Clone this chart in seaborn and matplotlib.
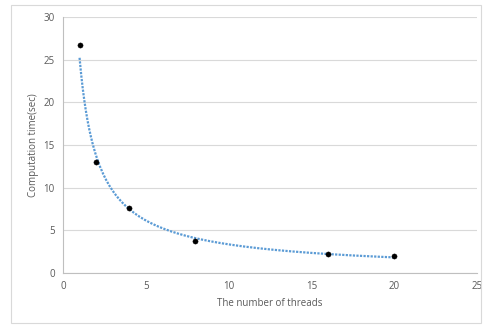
import numpy as np
import pandas as pd
import matplotlib
matplotlib.use("Agg")
import matplotlib.pyplot as plt
import seaborn as sns
from matplotlib.patches import Rectangle

threads = [1, 2, 4, 8, 16, 20]
times = [26.7, 12.95, 7.65, 3.8, 2.2, 1.95]
x_ticks = [0, 5, 10, 15, 20, 25]
y_ticks = [0, 5, 10, 15, 20, 25, 30]

# power trendline fitted to the data (Excel-style)
b, a = np.polyfit(np.log(threads), np.log(times), 1)
xt = np.linspace(min(threads), max(threads), 200)
trend = pd.DataFrame({"x": xt, "y": np.exp(a) * xt ** b})
df = pd.DataFrame({"threads": threads, "time": times})

sns.set_style("white")
plt.rcParams['font.family'] = ['Open Sans', 'DejaVu Sans']

fig = plt.figure(figsize=(4.84, 3.25), dpi=100)
fig.patches.append(Rectangle((11/484, 2/325), 470/484, 318/325, transform=fig.transFigure,
                             fill=False, edgecolor="#d9d9d9", linewidth=0.8))
ax = fig.add_axes([63/484, 1-273/325, 414/484, 256/325])

sns.lineplot(data=trend, x="x", y="y", ax=ax, color="#5B9BD5", linestyle=(0, (1, 0.6)),
             linewidth=1.6, zorder=2)
sns.scatterplot(data=df, x="threads", y="time", ax=ax, color="black", s=14,
                edgecolor="black", zorder=3)

ax.set_xlim(0, 25)
ax.set_ylim(0, 30)
ax.set_xticks(x_ticks)
ax.set_yticks(y_ticks)
ax.yaxis.grid(True, color="#d9d9d9", linewidth=0.8)
ax.xaxis.grid(False)
for s in ["top", "right"]:
    ax.spines[s].set_visible(False)
for s in ["left", "bottom"]:
    ax.spines[s].set_color("#bfbfbf")
    ax.spines[s].set_linewidth(0.8)
ax.tick_params(axis="both", length=0, labelsize=7, labelcolor="#595959", pad=6)
ax.set_xlabel("The number of threads", fontsize=7, color="#595959", labelpad=4)
ax.set_ylabel("Computation time(sec)", fontsize=7, color="#595959", labelpad=3)

fig.savefig("out.png", dpi=100)
